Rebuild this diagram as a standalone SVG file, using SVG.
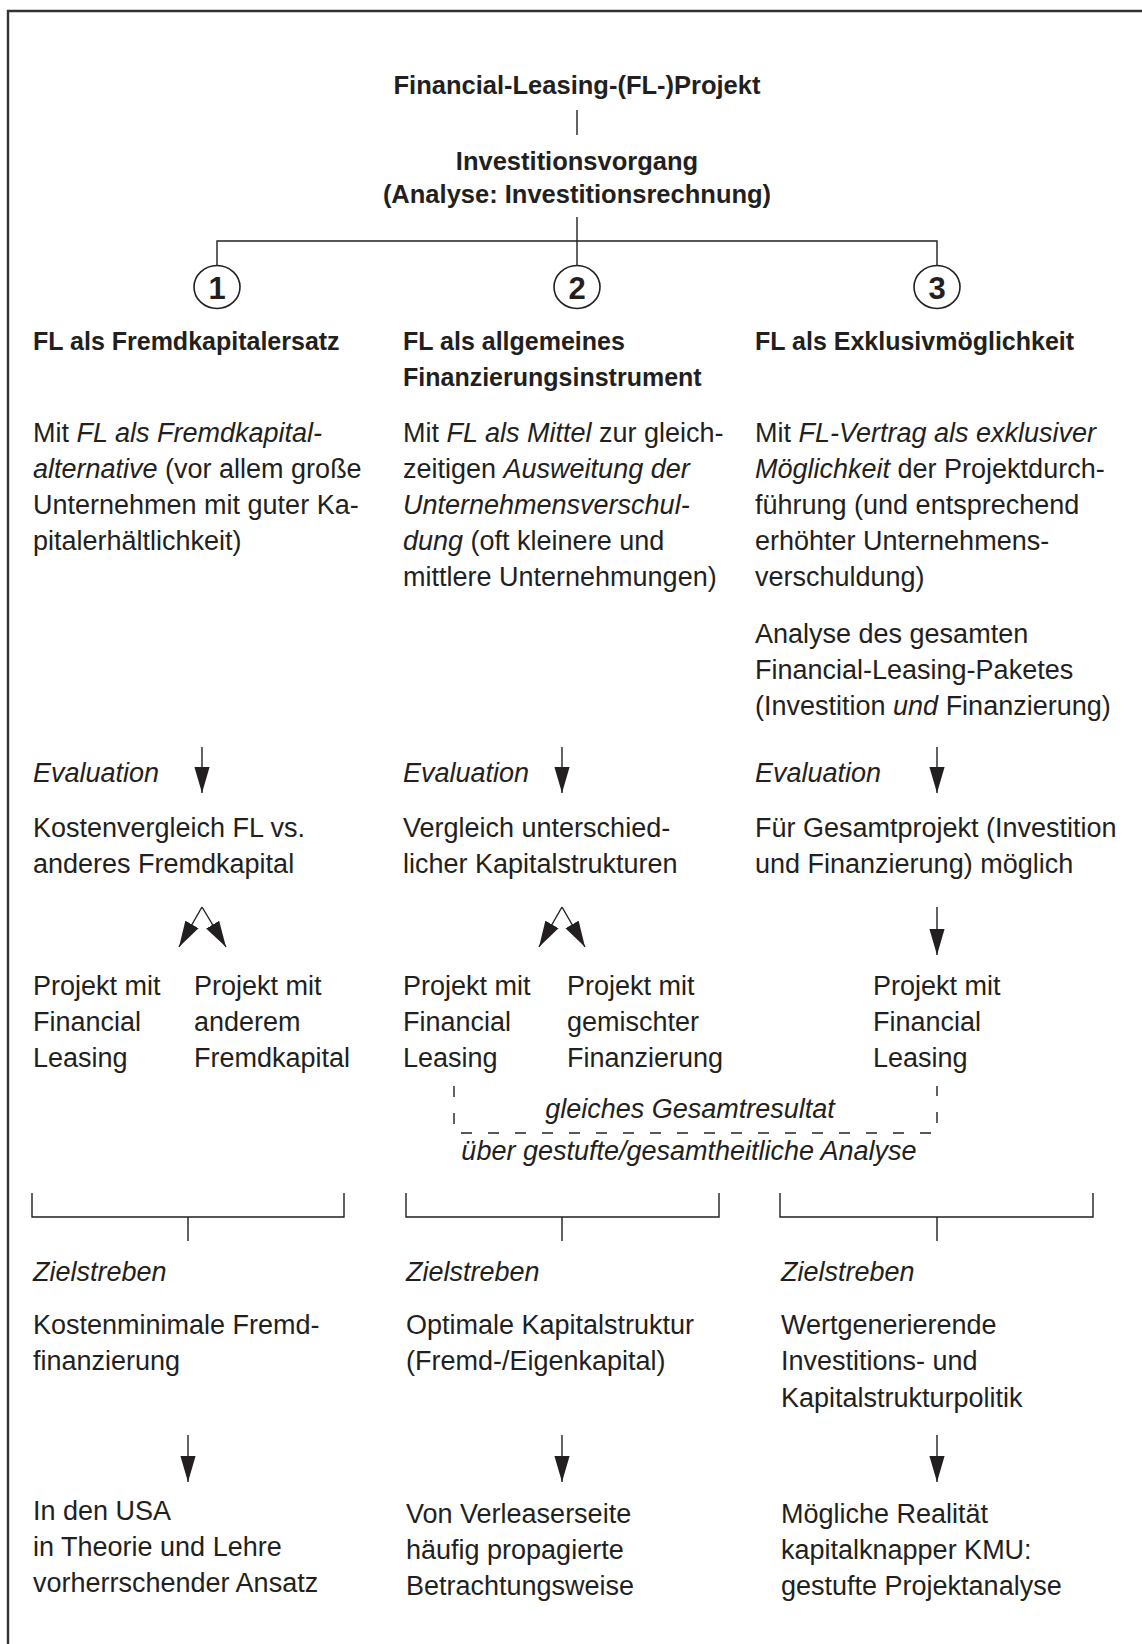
<svg xmlns="http://www.w3.org/2000/svg" width="1142" height="1644" viewBox="0 0 1142 1644">
<style>
text{font-family:"Liberation Sans",Arial,sans-serif;fill:#231f20;font-size:27px}
.b{font-weight:bold;font-size:25px}
.t{font-size:25.5px}
.n{font-weight:bold;font-size:31px}
.i{font-style:italic}
.ln{stroke:#231f20;stroke-width:1.4;fill:none}
.ar{stroke:#231f20;stroke-width:1.4;fill:none;marker-end:url(#ah)}
.dash{stroke:#231f20;stroke-width:1.4;fill:none;stroke-dasharray:11 16}
.circ{stroke:#231f20;stroke-width:1.6;fill:#fff}
</style>
<defs>
<marker id="ah" markerUnits="userSpaceOnUse" markerWidth="26" markerHeight="16" viewBox="0 0 24 14" refX="24" refY="7" orient="auto">
<path d="M0,0 L24,7 L0,14 z" fill="#231f20"/>
</marker>
</defs>
<rect width="1142" height="1644" fill="#fff"/>
<g id="frame">
<path d="M8,1644 V11 H1142" stroke="#333" stroke-width="2.4" fill="none"/>
</g>
<g id="connectors">
<path class="ln" d="M577,110 V135"/>
<path class="ln" d="M577,217 V265"/>
<path class="ln" d="M217,265 V241 H937 V265"/>
<path class="ar" d="M202,747 V793"/>
<path class="ar" d="M562,747 V793"/>
<path class="ar" d="M937,747 V793"/>
<path class="ar" d="M202,907 L179,947"/>
<path class="ar" d="M202,907 L226,947"/>
<path class="ar" d="M562,907 L539,947"/>
<path class="ar" d="M562,907 L585,947"/>
<path class="ar" d="M937,907 V955"/>
<path class="dash" d="M454,1086 V1133 H937 V1086"/>
<path class="ln" d="M32,1193 V1217 H344 V1193 M188,1217 V1241"/>
<path class="ln" d="M406,1193 V1217 H719 V1193 M562,1217 V1241"/>
<path class="ln" d="M780,1193 V1217 H1093 V1193 M937,1217 V1241"/>
<path class="ar" d="M188,1435 V1482"/>
<path class="ar" d="M562,1435 V1482"/>
<path class="ar" d="M937,1435 V1482"/>
</g>
<g id="title"><text class="b t" x="577" y="94" text-anchor="middle">Financial-Leasing-(FL-)Projekt</text></g>
<g id="investition">
<text class="b t" x="577" y="170" text-anchor="middle">Investitionsvorgang</text>
<text class="b t" x="577" y="203" text-anchor="middle">(Analyse: Investitionsrechnung)</text>
</g>
<g id="num1"><ellipse class="circ" cx="217" cy="287" rx="23" ry="21.5"/><text class="n" x="217" y="299" text-anchor="middle">1</text></g>
<g id="num2"><ellipse class="circ" cx="577" cy="287" rx="23" ry="21.5"/><text class="n" x="577" y="299" text-anchor="middle">2</text></g>
<g id="num3"><ellipse class="circ" cx="937" cy="287" rx="23" ry="21.5"/><text class="n" x="937" y="299" text-anchor="middle">3</text></g>
<g id="col1-head">
<text class="b" x="33" y="350">FL als Fremdkapitalersatz</text>
<text x="33" y="442">Mit <tspan class="i">FL als Fremdkapital-</tspan></text>
<text x="33" y="478"><tspan class="i">alternative</tspan> (vor allem große</text>
<text x="33" y="514">Unternehmen mit guter Ka-</text>
<text x="33" y="550">pitalerhältlichkeit)</text>
</g>
<g id="col2-head">
<text class="b" x="403" y="350">FL als allgemeines</text>
<text class="b" x="403" y="386">Finanzierungsinstrument</text>
<text x="403" y="442">Mit <tspan class="i">FL als Mittel</tspan> zur gleich-</text>
<text x="403" y="478">zeitigen <tspan class="i">Ausweitung der</tspan></text>
<text x="403" y="514" class="i">Unternehmensverschul-</text>
<text x="403" y="550"><tspan class="i">dung</tspan> (oft kleinere und</text>
<text x="403" y="586">mittlere Unternehmungen)</text>
</g>
<g id="col3-head">
<text class="b" x="755" y="350">FL als Exklusivmöglichkeit</text>
<text x="755" y="442">Mit <tspan class="i">FL-Vertrag als exklusiver</tspan></text>
<text x="755" y="478"><tspan class="i">Möglichkeit</tspan> der Projektdurch-</text>
<text x="755" y="514">führung (und entsprechend</text>
<text x="755" y="550">erhöhter Unternehmens-</text>
<text x="755" y="586">verschuldung)</text>
<text x="755" y="643">Analyse des gesamten</text>
<text x="755" y="679">Financial-Leasing-Paketes</text>
<text x="755" y="715">(Investition <tspan class="i">und</tspan> Finanzierung)</text>
</g>
<g id="col1-eval">
<text class="i" x="33" y="782">Evaluation</text>
<text x="33" y="837">Kostenvergleich FL vs.</text>
<text x="33" y="873">anderes Fremdkapital</text>
</g>
<g id="col2-eval">
<text class="i" x="403" y="782">Evaluation</text>
<text x="403" y="837">Vergleich unterschied-</text>
<text x="403" y="873">licher Kapitalstrukturen</text>
</g>
<g id="col3-eval">
<text class="i" x="755" y="782">Evaluation</text>
<text x="755" y="837">Für Gesamtprojekt (Investition</text>
<text x="755" y="873">und Finanzierung) möglich</text>
</g>
<g id="p1a"><text x="33" y="995">Projekt mit</text><text x="33" y="1031">Financial</text><text x="33" y="1067">Leasing</text></g>
<g id="p1b"><text x="194" y="995">Projekt mit</text><text x="194" y="1031">anderem</text><text x="194" y="1067">Fremdkapital</text></g>
<g id="p2a"><text x="403" y="995">Projekt mit</text><text x="403" y="1031">Financial</text><text x="403" y="1067">Leasing</text></g>
<g id="p2b"><text x="567" y="995">Projekt mit</text><text x="567" y="1031">gemischter</text><text x="567" y="1067">Finanzierung</text></g>
<g id="p3"><text x="873" y="995">Projekt mit</text><text x="873" y="1031">Financial</text><text x="873" y="1067">Leasing</text></g>
<g id="result">
<text class="i" x="690" y="1118" text-anchor="middle">gleiches Gesamtresultat</text>
<text class="i" x="689" y="1160" text-anchor="middle">über gestufte/gesamtheitliche Analyse</text>
</g>
<g id="col1-goal">
<text class="i" x="33" y="1281">Zielstreben</text>
<text x="33" y="1334">Kostenminimale Fremd-</text>
<text x="33" y="1370">finanzierung</text>
</g>
<g id="col2-goal">
<text class="i" x="406" y="1281">Zielstreben</text>
<text x="406" y="1334">Optimale Kapitalstruktur</text>
<text x="406" y="1370">(Fremd-/Eigenkapital)</text>
</g>
<g id="col3-goal">
<text class="i" x="781" y="1281">Zielstreben</text>
<text x="781" y="1334">Wertgenerierende</text>
<text x="781" y="1370">Investitions- und</text>
<text x="781" y="1407">Kapitalstrukturpolitik</text>
</g>
<g id="col1-out">
<text x="33" y="1520">In den USA</text>
<text x="33" y="1556">in Theorie und Lehre</text>
<text x="33" y="1592">vorherrschender Ansatz</text>
</g>
<g id="col2-out">
<text x="406" y="1523">Von Verleaserseite</text>
<text x="406" y="1559">häufig propagierte</text>
<text x="406" y="1595">Betrachtungsweise</text>
</g>
<g id="col3-out">
<text x="781" y="1523">Mögliche Realität</text>
<text x="781" y="1559">kapitalknapper KMU:</text>
<text x="781" y="1595">gestufte Projektanalyse</text>
</g>
</svg>
